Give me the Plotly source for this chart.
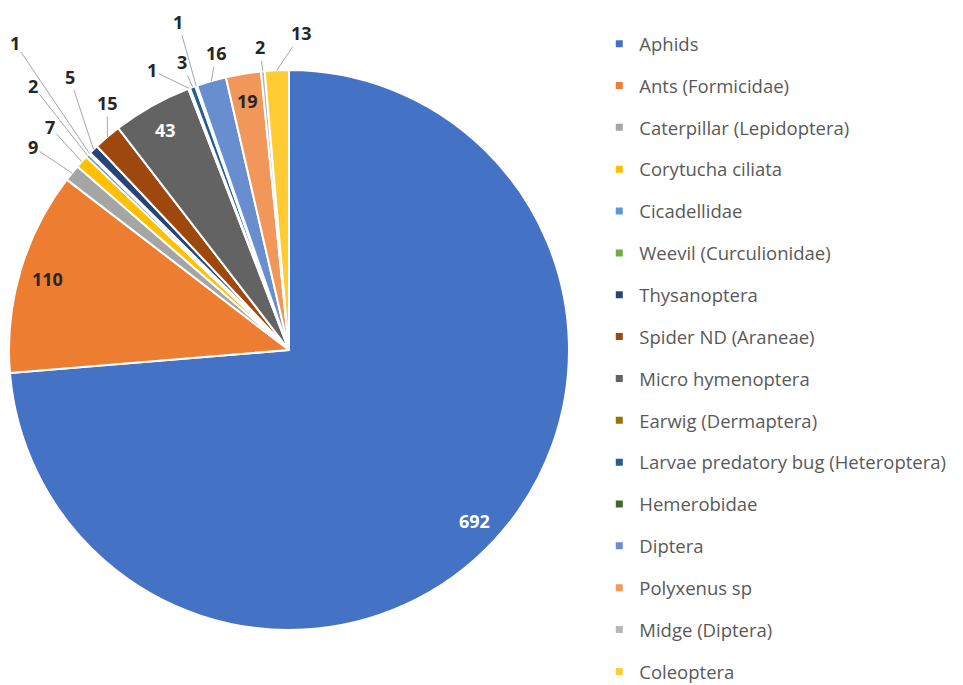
import math
import plotly.graph_objects as go

categories = ["Aphids", "Ants (Formicidae)", "Caterpillar (Lepidoptera)", "Corytucha ciliata",
              "Cicadellidae", "Weevil (Curculionidae)", "Thysanoptera", "Spider ND (Araneae)",
              "Micro hymenoptera", "Earwig (Dermaptera)", "Larvae predatory bug (Heteroptera)",
              "Hemerobidae", "Diptera", "Polyxenus sp", "Midge (Diptera)", "Coleoptera"]
counts = [692, 110, 9, 7, 2, 1, 5, 15, 43, 1, 3, 1, 16, 19, 2, 13]

# styling
colors = ["#4472C4", "#ED7D31", "#A5A5A5", "#FFC000", "#5B9BD5", "#70AD47", "#264478", "#9E480E",
          "#636363", "#997300", "#255E91", "#43682B", "#698ED0", "#F1975A", "#B7B7B7", "#FFCD33"]
label_style = {  # "in": inside-end label (text colour) ; "out": callout offset in px (dx, dy)
    "Aphids": ("in", "white"),
    "Ants (Formicidae)": ("in", "#262626"),
    "Micro hymenoptera": ("in", "white"),
    "Polyxenus sp": ("in", "#262626"),
    "Caterpillar (Lepidoptera)": ("out", (-39, -26)),
    "Corytucha ciliata": ("out", (-32, -35)),
    "Cicadellidae": ("out", (-55, -70)),
    "Weevil (Curculionidae)": ("out", (-75, -111)),
    "Thysanoptera": ("out", (-24, -73)),
    "Spider ND (Araneae)": ("out", (0, -34)),
    "Earwig (Dermaptera)": ("out", (-37, -18)),
    "Larvae predatory bug (Heteroptera)": ("out", (-11, -25)),
    "Hemerobidae": ("out", (-18, -64)),
    "Diptera": ("out", (5, -28)),
    "Midge (Diptera)": ("out", (-3, -24)),
    "Coleoptera": ("out", (25, -37)),
}

W, H = 963, 685
PAGE_OFFSET = 8  # default page margin around the figure
CX, CY, R = 289 - PAGE_OFFSET, 350 - PAGE_OFFSET, 280  # pie centre (px) and radius
dom_x = [(CX - R) / W, (CX + R) / W]
dom_y = [(H - CY - R) / H, (H - CY + R) / H]

fig = go.Figure()
fig.add_trace(go.Pie(
    labels=categories, values=counts, sort=False, direction="clockwise", rotation=0,
    marker=dict(colors=colors, line=dict(color="white", width=2)),
    textinfo="none", domain=dict(x=dom_x, y=dom_y),
    showlegend=False, hoverinfo="label+value",
))

# data labels placed from the slice angles
total = sum(counts)
cum = 0
annotations = []
for name, v in zip(categories, counts):
    mid = (cum + v / 2) / total * 2 * math.pi
    cum += v
    kind, st = label_style[name]
    if kind == "in":
        k = 0.9 * R
        px = CX + k * math.sin(mid)
        py = CY - k * math.cos(mid)
        annotations.append(dict(
            x=px / W, y=1 - py / H, xref="paper", yref="paper", text=str(v), showarrow=False,
            xanchor="center", yanchor="middle",
            font=dict(family="Open Sans", size=18, color=st, weight="bold")))
    else:
        px = CX + R * math.sin(mid)
        py = CY - R * math.cos(mid)
        annotations.append(dict(
            x=px / W, y=1 - py / H, xref="paper", yref="paper", text=str(v),
            showarrow=True, ax=st[0], ay=st[1], axref="pixel", ayref="pixel",
            arrowhead=0, arrowwidth=1, arrowcolor="#A6A6A6", standoff=0, startstandoff=0,
            font=dict(family="Open Sans", size=18, color="#262626", weight="bold")))

for name, col in zip(categories, colors):
    fig.add_trace(go.Scatter(
        x=[None], y=[None], mode="markers", name=name, legendgroup=name,
        marker=dict(symbol="square", size=7, color=col),
    ))

fig.update_layout(
    width=W, height=H,
    margin=dict(l=0, r=0, t=0, b=0, autoexpand=False),
    paper_bgcolor="white", plot_bgcolor="white",
    xaxis=dict(visible=False), yaxis=dict(visible=False),
    annotations=annotations,
    showlegend=True,
    legend=dict(x=0.614, y=0.975, xanchor="left", yanchor="top",
                font=dict(family="Open Sans", size=18.5, color="#595959"),
                tracegroupgap=14.8, itemwidth=30, bgcolor="rgba(0,0,0,0)",
                maxheight=1.0),
)

fig.write_html("out.html")
